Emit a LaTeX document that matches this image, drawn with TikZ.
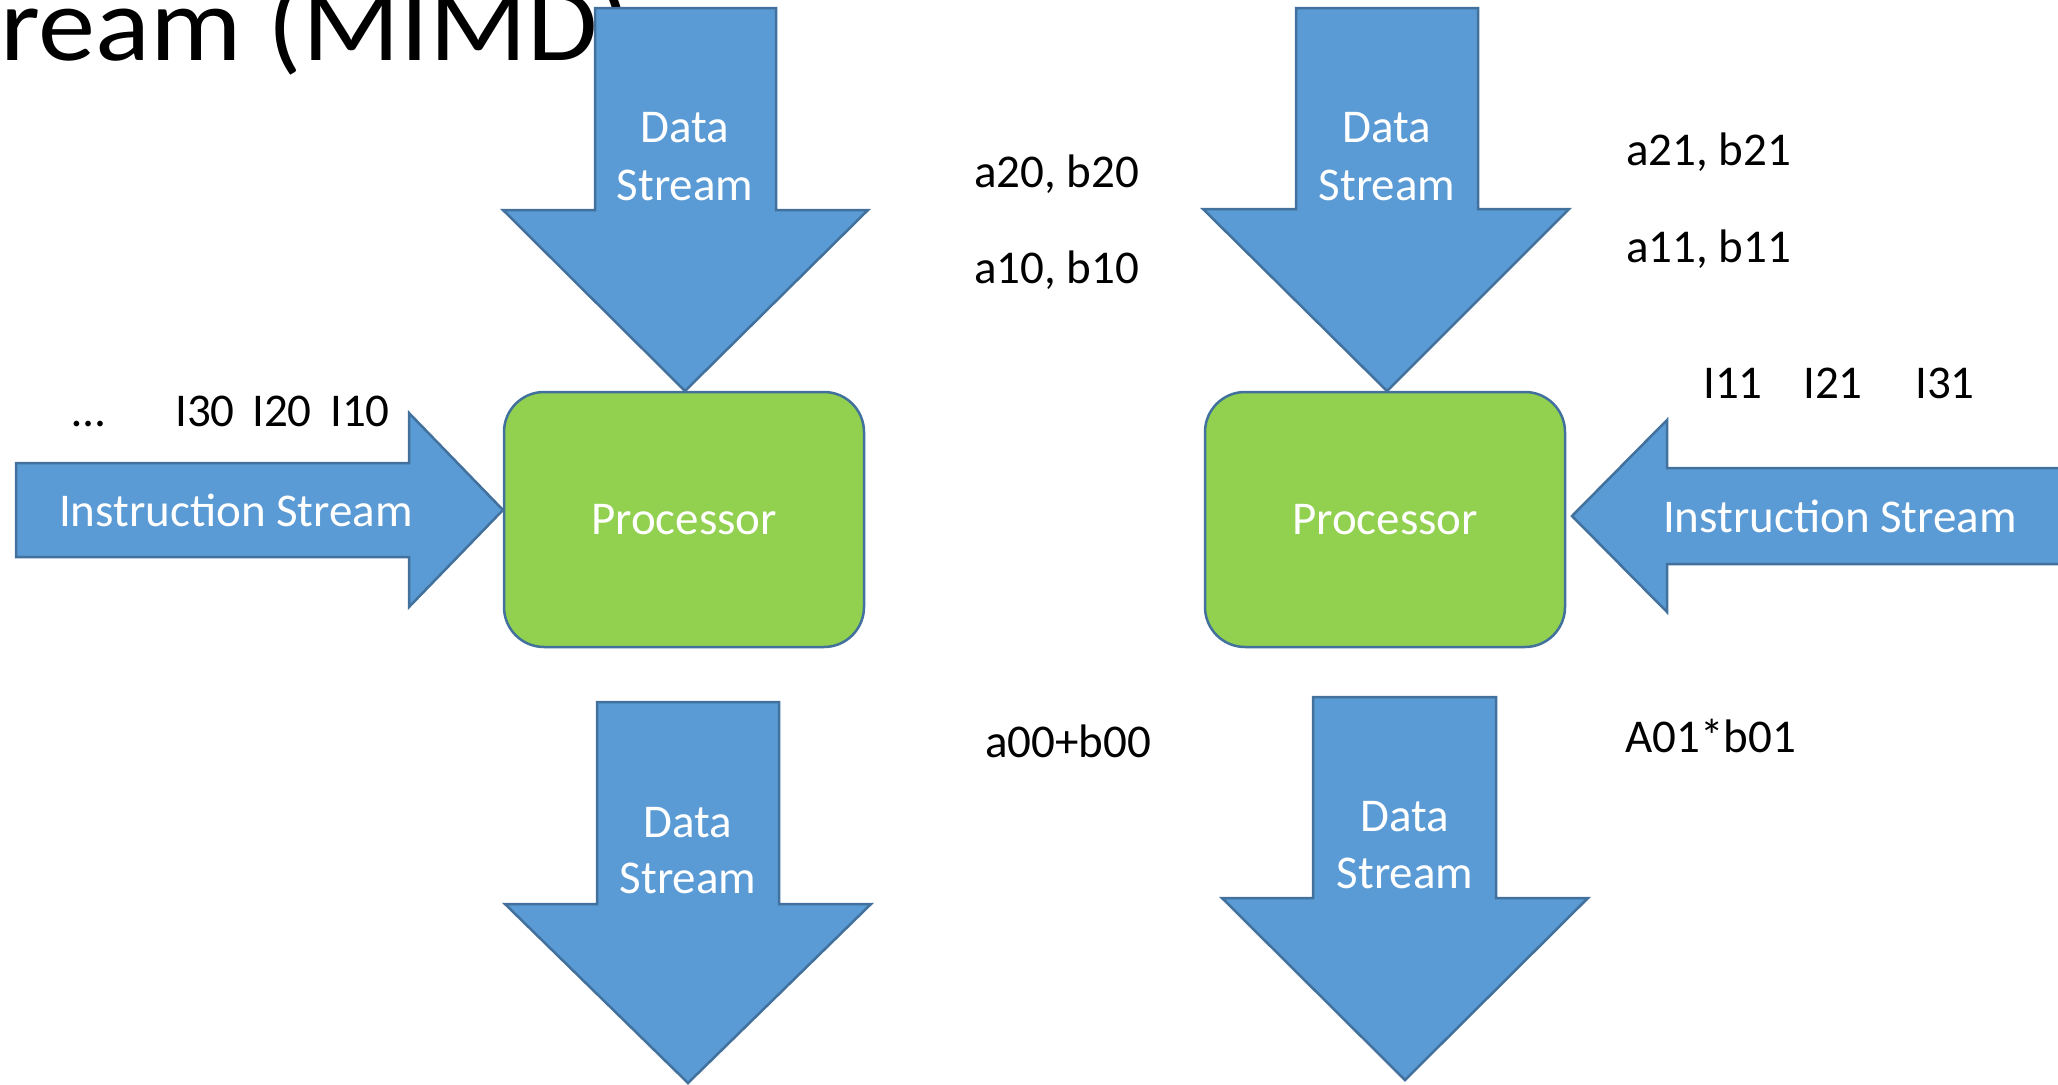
\documentclass[tikz,border=0pt]{standalone}
\usepackage{fontspec}
\setmainfont{Carlito}
\newfontfamily\headfont[FakeStretch=1.08]{Carlito}
\definecolor{streamblue}{HTML}{5B9BD5}
\definecolor{edgeblue}{HTML}{41719C}
\definecolor{cpugreen}{HTML}{92D050}
\tikzset{
  flow/.style={fill=streamblue, draw=edgeblue, line width=2.5pt, line join=miter},
  cpu/.style={fill=cpugreen, draw=edgeblue, line width=2.5pt, rounded corners=40pt,
    minimum width=360pt, minimum height=255pt, inner sep=0pt, text=white,
    font=\fontsize{47}{56}\selectfont},
  inlabel/.style={text=white, font=\fontsize{47}{56}\selectfont, inner sep=0pt, anchor=base},
  tag/.style={text=black, font=\fontsize{47}{56}\selectfont, inner sep=0pt, anchor=base west},
}
\begin{document}
\begin{tikzpicture}[x=1pt,y=-1pt]
\useasboundingbox (0,0) rectangle (2058,1084);
\clip (0,0) rectangle (2058,1084);
\fill[white] (0,0) rectangle (2058,1084);

% heading, partly hidden behind the upper stream
\node[anchor=base west, inner sep=0pt, font=\headfont\fontsize{106}{120}\selectfont] (title) at (0,60) {ream (MIMD)};

% upper data streams
\draw[flow] (595,8) -- (776,8) -- (776,210) -- (868,210) -- (685,391) -- (503,210) -- (595,210) -- cycle;
\draw[flow] (1296,8) -- (1478,8) -- (1478,209) -- (1569,209) -- (1387,391) -- (1203,209) -- (1296,209) -- cycle;
\node[inlabel] (dinL1) at (685,142) {Data};
\node[inlabel] (dinL2) at (685,200) {Stream};
\node[inlabel] (dinR1) at (1387,142) {Data};
\node[inlabel] (dinR2) at (1387,200) {Stream};

% instruction streams
\draw[flow] (16,463) -- (409,463) -- (409,413) -- (503,510) -- (409,607) -- (409,557) -- (16,557) -- cycle;
\draw[flow] (2070,468) -- (1667,468) -- (1667,420) -- (1572,516) -- (1667,612) -- (1667,564) -- (2070,564) -- cycle;
\node[inlabel] (insL) at (236,526) {Instruction Stream};
\node[inlabel] (insR) at (1840,532) {Instruction Stream};

% processors
\node[cpu] (cpuL) at (684,519.5) {Processor};
\node[cpu] (cpuR) at (1385,519.5) {Processor};

% lower data streams
\draw[flow] (597,702) -- (779,702) -- (779,904) -- (871,904) -- (688,1083) -- (505,904) -- (597,904) -- cycle;
\draw[flow] (1313,697) -- (1496,697) -- (1496,898) -- (1588,898) -- (1405,1080) -- (1222,898) -- (1313,898) -- cycle;
\node[inlabel] (doutL1) at (688,837) {Data};
\node[inlabel] (doutL2) at (688,893) {Stream};
\node[inlabel] (doutR1) at (1405,831) {Data};
\node[inlabel] (doutR2) at (1405,888) {Stream};

% queued instructions
\node[tag] (dots) at (72,426) {\ldots};
\node[tag] (i30) at (175,426) {I30};
\node[tag] (i20) at (252,426) {I20};
\node[tag] (i10) at (330,426) {I10};
\node[tag] (i11) at (1703,398) {I11};
\node[tag] (i21) at (1803,398) {I21};
\node[tag] (i31) at (1915,398) {I31};

% operands and results
\node[tag] (a20) at (974,187) {a20, b20};
\node[tag] (a10) at (974,283) {a10, b10};
\node[tag] (a21) at (1626,165) {a21, b21};
\node[tag] (a11) at (1626,262) {a11, b11};
\node[tag] (r00) at (985,757) {a00+b00};
\node[tag] (r01) at (1625,752) {A01*b01};
\end{tikzpicture}
\end{document}
